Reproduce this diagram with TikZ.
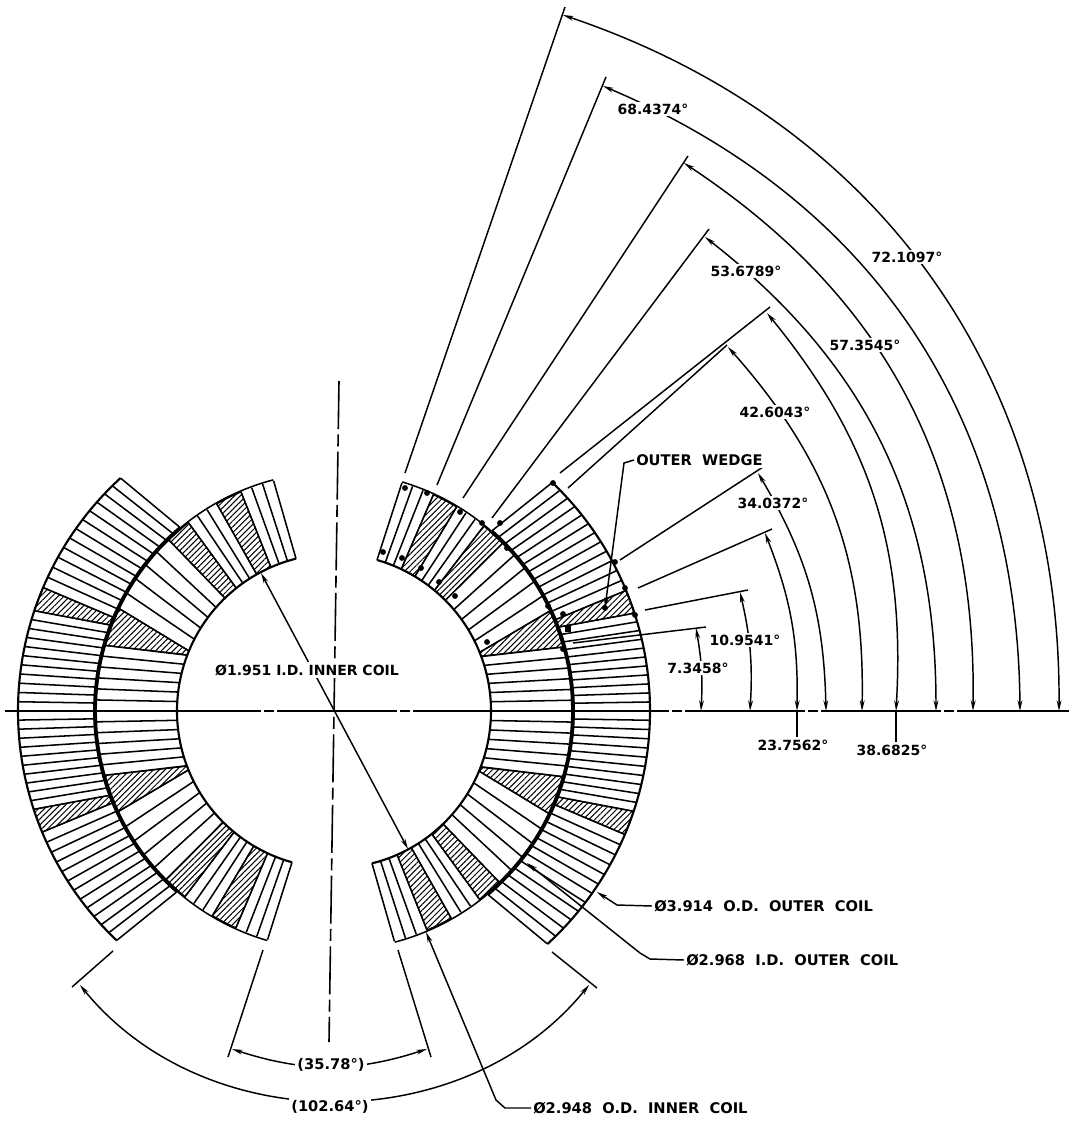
\documentclass[tikz,border=0pt]{standalone}
\usepackage{fontspec}
\setmainfont{DejaVu Sans}
\newfontfamily\capfont[WordSpace=2]{DejaVu Sans}
\usetikzlibrary{arrows.meta,patterns.meta}

\tikzset{
    turn/.style={line width=1.15pt},
    wall/.style={line width=1.6pt},
    seam/.style={line width=2.9pt},
    wedge/.style={line width=.9pt, pattern={Lines[angle=45,distance=3.1pt,line width=.75pt]}},
    dim/.style={line width=1.1pt},
    note/.style={font=\bfseries\fontsize{10.5}{12}\selectfont, fill=white, inner sep=1.5pt},
    bignote/.style={font=\capfont\bfseries\fontsize{11}{13}\selectfont, fill=white, inner sep=1.5pt},
    axis/.style={line width=1.2pt}
}

% r1, r2, a1, b1, a2, b2, turns
\newcommand{\coilblock}[7]{
    \foreach \t in {0,...,#7}
        \draw [turn] ({\fac*(#3+(#5-#3)*\t/#7)}:#1) -- ({\fac*(#4+(#6-#4)*\t/#7)}:#2);
}
% r1, r2, a1, b1, a2, b2
\newcommand{\coilwedge}[6]{
    \draw [wedge] ({\fac*#3}:#1) -- ({\fac*#4}:#2) -- ({\fac*(#4+#6)/2}:#2) -- ({\fac*#6}:#2)
        -- ({\fac*#5}:#1) -- cycle;
}

\begin{document}
\begin{tikzpicture}[x=.75pt, y=-.75pt, >={Stealth[length=8pt,width=3.6pt]}]
    \useasboundingbox (0,0) rectangle (1071,1122);

    % coils, one quadrant at a time
    \foreach \sx/\sy/\fac in {1/1/.975, -1/1/1, -1/-1/.98, 1/-1/1}{
        \begin{scope}[shift={(334,711)}, xscale=\sx, yscale=-\sy]
            % inner coil
            \coilblock{157}{238}{0}{0}{20.8}{16}{6}
            \coilwedge{157}{238}{21}{16}{22.5}{25.5}
            \coilblock{157}{238}{22.5}{25.5}{46}{46}{5}
            \coilwedge{157}{238}{46}{46}{51.5}{52.3}
            \coilblock{157}{238}{51.5}{52.3}{60.5}{60.5}{3}
            \coilwedge{157}{238}{60.5}{60.5}{66.3}{67}
            \coilblock{157}{238}{66.3}{67}{76}{75.3}{3}
            % outer coil
            \coilblock{240}{316}{0}{0}{21}{18.5}{11}
            \coilwedge{240}{316}{21}{18.5}{23}{23}
            \coilblock{240}{316}{23}{23}{50}{47.5}{12}
            % walls
            \draw [wall] (0:157) arc [start angle=0, end angle={\fac*76}, radius=157];
            \draw [seam] (0:239) arc [start angle=0, end angle={\fac*50}, radius=239];
            \draw [turn] ({\fac*50}:239) arc [start angle={\fac*50}, end angle={\fac*75.3}, radius=239];
            \draw [wall] (0:316) arc [start angle=0, end angle={\fac*47.5}, radius=316];
        \end{scope}
    }

    % small marks on the upper right quadrant
    \foreach \x/\y in {383/552,405/488,427/493,460/512,482/523,500/523,553/483,402/558,421/568,439/582,
        455/596,507/548,487/642,563/649,548/606,563/614,605/608,625/588,635/615,615/562}
        \fill (\x,\y) circle (2.2pt);
    \fill (565,625) rectangle (571,632);

    % axes
    \coordinate (axis-w) at (5,711);
    \coordinate (axis-e) at (1069,711);
    \coordinate (axis-n) at (339,381);
    \coordinate (axis-s) at (329,1042);
    \draw [axis, dash pattern=on 90pt off 2pt on 8pt off 2pt] (axis-w) -- (axis-e);
    \draw [axis, dash pattern=on 36pt off 4pt on 9pt off 4pt] (axis-n) -- (axis-s);

    % extension lines on the right
    \foreach \i/\fx/\fy/\ex/\ey in {1/573/643/706/627, 2/645/610/748/590, 3/638/588/772/529, 4/620/560/763/467,
        5/568/488/727/345, 6/560/473/770/307, 7/492/518/709/229, 8/463/498/688/156, 9/437/485/606/77, 10/405/473/565/7}{
        \coordinate (foot-\i) at (\fx,\fy);
        \coordinate (end-\i) at (\ex,\ey);
        \draw [dim] (foot-\i) -- (end-\i);
    }

    % angle arcs, from the axis up
    \foreach \i/\bx/\tx/\ty/\bendang in {1/701/696/628/6.5, 2/750/740/592/8.2, 3/797/765/533/11.2, 4/826/758/473/14.7,
        5/862/728/347/21.4, 6/896/767/313/21.3, 7/936/705/237/26, 8/973/684/163/28.7, 9/1020/603/86/33.3, 10/1059/563/15/35.9}{
        \coordinate (base-\i) at (\bx,711);
        \coordinate (top-\i) at (\tx,\ty);
        \draw [dim, <->] (base-\i) to [bend right=\bendang] (top-\i);
    }

    % angle labels
    \foreach \i/\x/\y/\l in {1/698/668/7.3458, 2/745/640/10.9541, 4/773/503/34.0372, 5/775/412/42.6043,
        7/746/271/53.6789, 8/865/345/57.3545, 9/653/109/68.4374, 10/907/257/72.1097}
        \node [note] (angle-\i) at (\x,\y) {\l°};
    \node [note] (angle-3) at (793,745) {23.7562°};
    \node [note] (angle-6) at (892,750) {38.6825°};
    \draw [dim] (base-3) -- (angle-3.north -| base-3);
    \draw [dim] (base-6) -- (angle-6.north -| base-6);

    % bottom dimensions
    \foreach \n/\fx/\ex in {a/263/228, b/398/431}{
        \coordinate (foot-\n) at (\fx,950);
        \coordinate (end-\n) at (\ex,1057);
        \draw [dim] (foot-\n) -- (end-\n);
    }
    \coordinate (foot-c) at (113,951);
    \coordinate (end-c) at (72,987);
    \coordinate (foot-d) at (552,952);
    \coordinate (end-d) at (597,988);
    \draw [dim] (foot-c) -- (end-c);
    \draw [dim] (foot-d) -- (end-d);
    \coordinate (tip-a) at (232,1049);
    \coordinate (tip-b) at (427,1049);
    \coordinate (tip-c) at (80,985);
    \coordinate (tip-d) at (589,985);
    \draw [dim, <->] (tip-a) to [bend right=18] (tip-b);
    \draw [dim, <->] (tip-c) to [bend right=51] (tip-d);
    \node [bignote] (span-small) at (331,1065) {(35.78°)};

    % leaders
    \coordinate (id-inner-a) at (261,573);
    \coordinate (id-inner-b) at (408,849);
    \draw [dim, <->] (id-inner-a) -- (id-inner-b);
    \coordinate (od-inner) at (426,932);
    \coordinate (od-outer) at (597,892);
    \coordinate (id-outer) at (527,863);
    \coordinate (wedge-tip) at (605,608);

    \node [note] (label-id-inner) at (307,670) {Ø1.951 I.D. INNER COIL};
    \node [bignote, anchor=west] (label-od-inner) at (531,1108) {Ø2.948 O.D. INNER COIL};
    \node [bignote, anchor=west] (label-od-outer) at (652,906) {Ø3.914 O.D. OUTER COIL};
    \node [bignote, anchor=west] (label-id-outer) at (684,960) {Ø2.968 I.D. OUTER COIL};
    \node [bignote, anchor=west] (label-wedge) at (634,460) {OUTER WEDGE};
    \node [bignote] (span-large) at (330,1107) {(102.64°)};

    \draw [dim, <-] (od-inner) -- (496,1100) -- (505,1108) -- (label-od-inner.west);
    \draw [dim, <-] (od-outer) -- (617,905) -- (label-od-outer.west);
    \draw [dim, <-] (id-outer) -- (640,953) -- (650,959) -- (label-id-outer.west);
    \draw [dim, <-] (wedge-tip) -- (624,463) -- (label-wedge.west);
\end{tikzpicture}
\end{document}
